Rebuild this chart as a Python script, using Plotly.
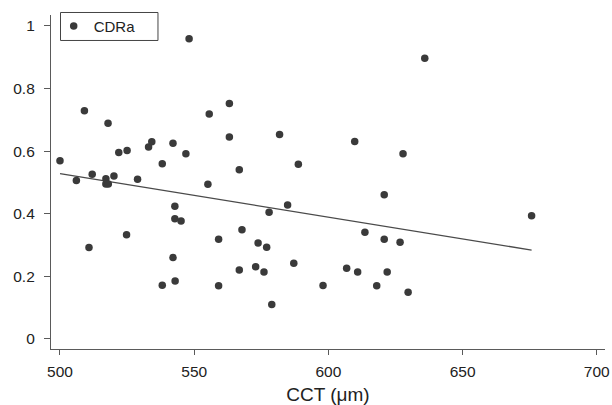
import plotly.graph_objects as go

cct = [500.0, 506.1, 509.1, 512.0, 517.1, 517.1, 518.0, 517.9, 520.1, 521.9,
       525.0, 528.9, 533.0, 534.2, 538.1, 542.1, 546.9, 548.1, 555.1, 555.6,
       563.1, 563.1, 581.8, 609.8, 627.8, 566.8, 588.8, 620.8, 635.9, 510.8,
       524.8, 542.8, 542.8, 545.1, 542.1, 538.1, 542.9, 584.8, 577.9, 559.1,
       567.8, 573.8, 577.0, 613.6, 620.8, 626.7, 566.8, 572.9, 576.0, 587.1,
       606.8, 610.9, 621.9, 559.1, 598.0, 618.0, 629.7, 578.9, 675.7]
cdra = [0.569, 0.506, 0.729, 0.526, 0.512, 0.495, 0.495, 0.689, 0.521, 0.596,
        0.602, 0.510, 0.613, 0.630, 0.560, 0.625, 0.592, 0.959, 0.494, 0.719,
        0.752, 0.645, 0.653, 0.631, 0.592, 0.541, 0.558, 0.461, 0.897, 0.292,
        0.333, 0.424, 0.384, 0.377, 0.260, 0.172, 0.185, 0.428, 0.405, 0.319,
        0.349, 0.307, 0.293, 0.341, 0.319, 0.309, 0.220, 0.231, 0.214, 0.242,
        0.226, 0.214, 0.214, 0.170, 0.171, 0.170, 0.149, 0.110, 0.394]

fit_x = [500.0, 675.7]
fit_y = [0.528, 0.284]

x_ticks = [500, 550, 600, 650, 700]
y_ticks = [0, 0.2, 0.4, 0.6, 0.8, 1]
y_tick_labels = ["0", "0.2", "0.4", "0.6", "0.8", "1"]

FONT = "Liberation Sans, Arial, sans-serif"
AXC = "#5a5a5a"

fig = go.Figure()
fig.add_trace(go.Scatter(x=fit_x, y=fit_y, mode="lines",
                         line=dict(color="#4a4a4a", width=1.3),
                         showlegend=False, hoverinfo="skip"))
fig.add_trace(go.Scatter(x=cct, y=cdra, mode="markers", name="CDRa",
                         marker=dict(color="#3a3a3a", size=7.5, line=dict(width=0))))

fig.update_layout(
    width=612, height=405,
    margin=dict(l=51, r=7, t=15, b=56, autoexpand=False),
    paper_bgcolor="white", plot_bgcolor="white",
    font=dict(family=FONT, size=15.5, color="#222222"),
    showlegend=True,
    legend=dict(x=0.0175, y=0.966, xanchor="left", yanchor="middle",
                borderwidth=0, bgcolor="rgba(0,0,0,0)",
                font=dict(size=15), itemsizing="trace", indentation=-7,
                orientation="h", entrywidth=52, entrywidthmode="pixels"),
    shapes=[dict(type="rect", xref="paper", yref="paper",
                 x0=0.01715, x1=0.1931, y0=0.9237, y1=1.0075,
                 line=dict(color="#444444", width=1), fillcolor="white",
                 layer="above")],
    xaxis=dict(range=[496.65, 703.05], tickvals=x_ticks, ticks="outside",
               ticklen=5, tickcolor=AXC, showline=True, linecolor=AXC,
               linewidth=1.2, showgrid=False, zeroline=False,
               ticklabelstandoff=3,
               title=dict(text="CCT (μm)", standoff=9), automargin=False),
    yaxis=dict(range=[-0.032, 1.035], tickvals=y_ticks, ticktext=y_tick_labels,
               ticks="outside", ticklen=6, tickcolor=AXC, showline=True,
               linecolor=AXC, linewidth=1.2, showgrid=False, zeroline=False,
               ticklabelstandoff=6, automargin=False),
)

fig.write_html("out.html")
